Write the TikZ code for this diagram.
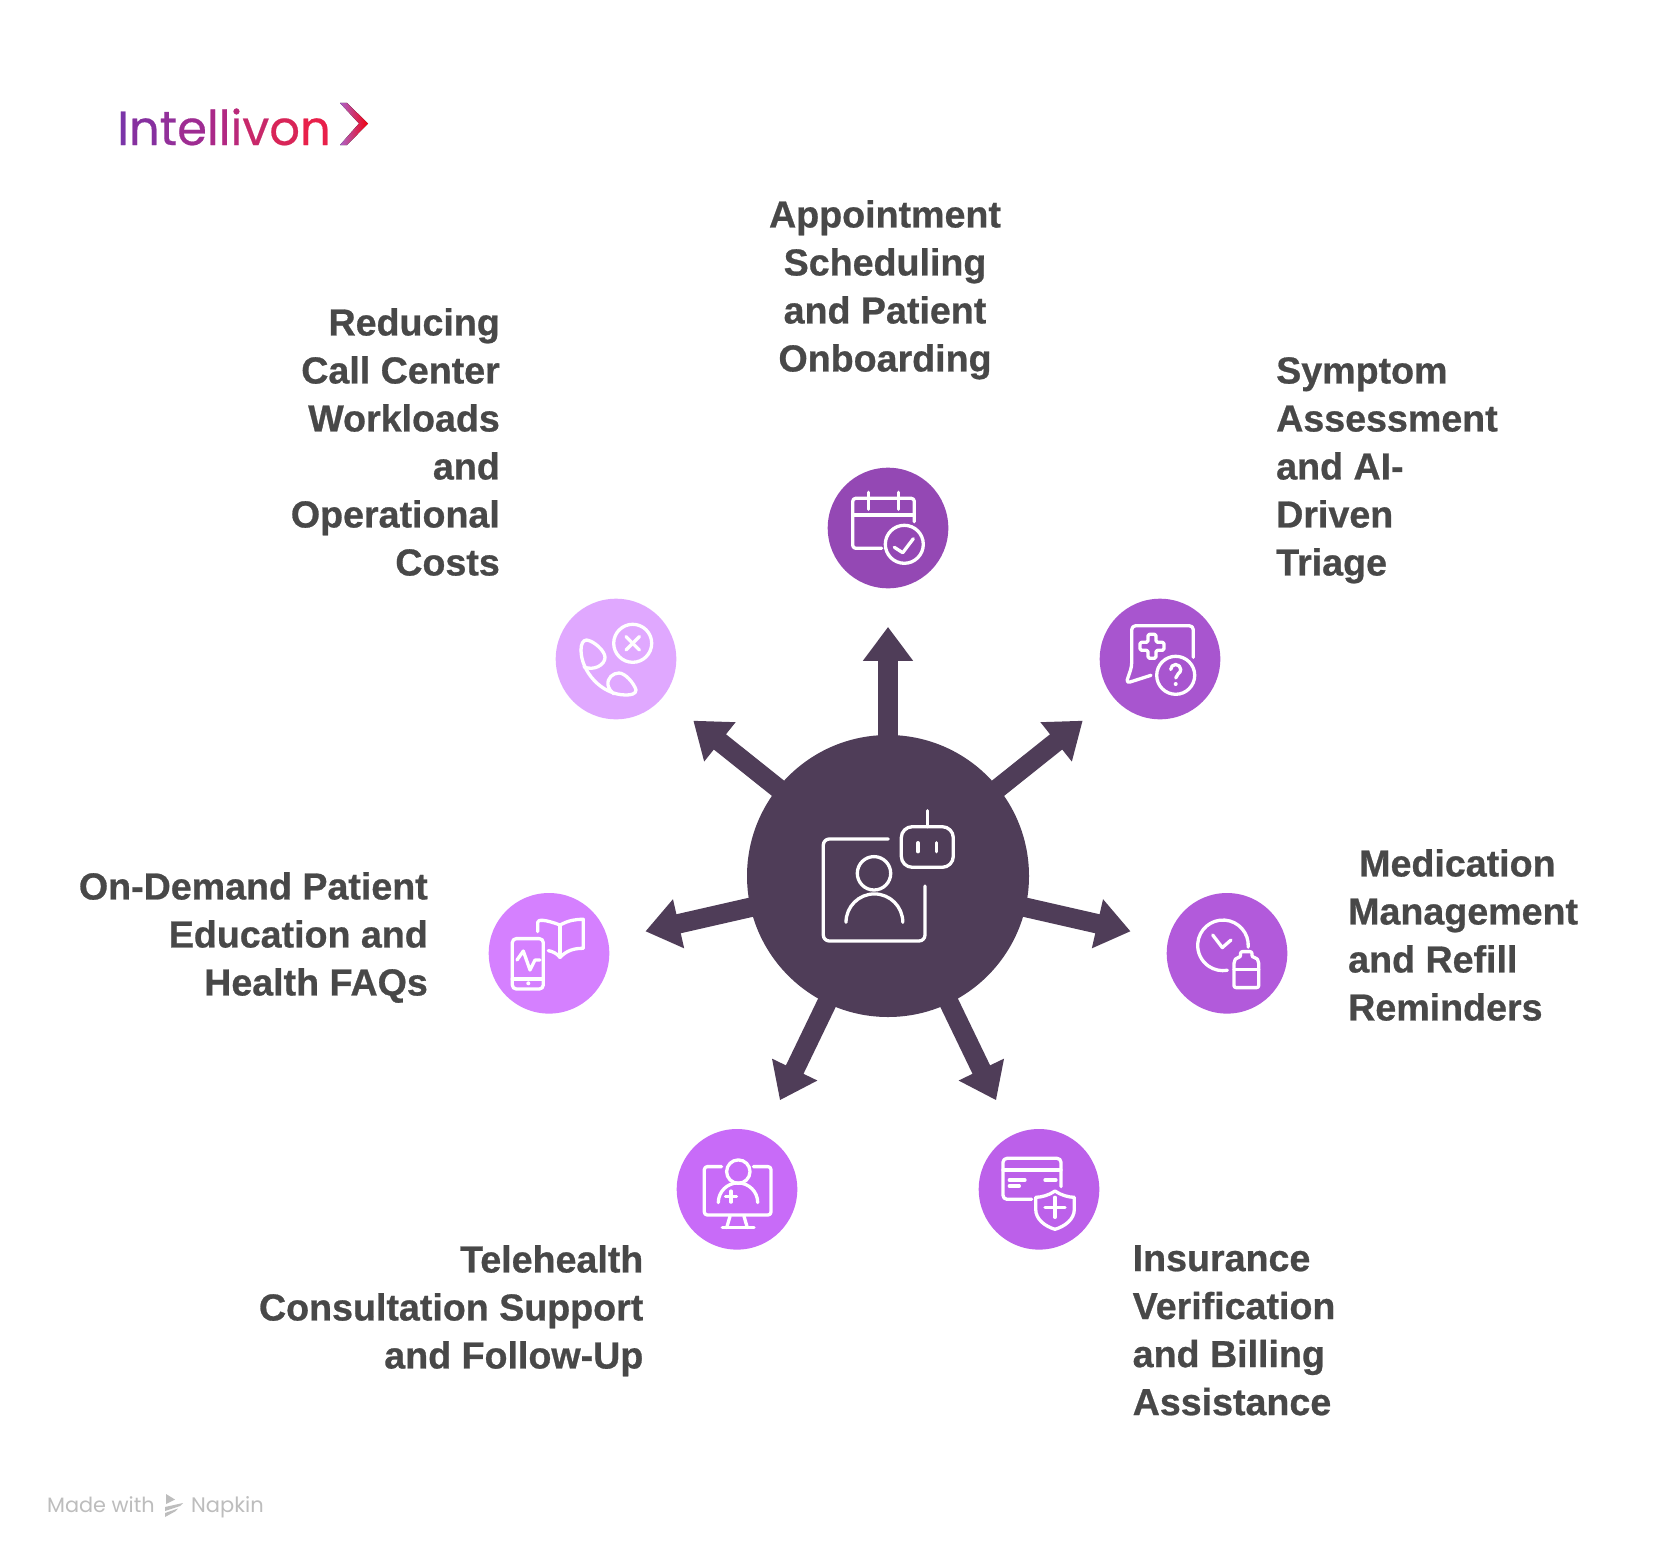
\documentclass[tikz,border=0pt]{standalone}
\usepackage{fontspec}
\usepackage{xcolor}
\usetikzlibrary{arrows.meta}
\setmainfont[BoldFeatures={FakeBold=0.7}]{Liberation Sans}
\newfontfamily\brandfont{Poppins}
\newfontfamily\logofont[FakeBold=0.4]{Poppins}
\definecolor{hubcol}{HTML}{4F3D58}
\definecolor{inkcol}{HTML}{484848}
\definecolor{markcol}{HTML}{BDBDBD}
\definecolor{calcol}{HTML}{9448B4}
\definecolor{triagecol}{HTML}{A855CF}
\definecolor{medcol}{HTML}{B25ADB}
\definecolor{billcol}{HTML}{BC60EA}
\definecolor{telecol}{HTML}{C86BF8}
\definecolor{faqcol}{HTML}{D580FF}
\definecolor{callcol}{HTML}{E0A8FF}
\newcommand{\logotext}{%
  \textcolor[HTML]{7B35A8}{I}\textcolor[HTML]{86309F}{n}\textcolor[HTML]{92309A}{t}%
  \textcolor[HTML]{9E2C92}{e}\textcolor[HTML]{AA2888}{l}\textcolor[HTML]{B22882}{l}%
  \textcolor[HTML]{BA287A}{i}\textcolor[HTML]{C8286A}{v}\textcolor[HTML]{D82558}{o}%
  \textcolor[HTML]{E8204A}{n}}
\tikzset{
  spot/.style={circle,minimum size=120.6pt,inner sep=0pt},
  spoke/.style={draw=hubcol,line width=19.5pt,shorten <=-3pt,shorten >=38.4pt,
    -{Triangle[width=48pt,length=34pt]}},
  icon/.style={draw=white,line width=3.3pt,line cap=round,line join=round},
  label/.style={inner sep=0pt,text=inkcol,font=\fontsize{37.6}{48}\selectfont\bfseries},
}
\begin{document}
\begin{tikzpicture}[x=1pt,y=-1pt]
  \fill[white] (0,0) rectangle (1680,1560);
  \useasboundingbox (0,0) rectangle (1680,1560);

  \node[anchor=base west,inner sep=0pt,font=\fontsize{48}{48}\selectfont\logofont] (logo) at (117,145) {\logotext};
  \fill[left color=callcol!30!calcol,right color=red!80!purple] (340,103) -- (347,103) -- (368,123.5) -- (347,145) -- (340,145) -- (359,123.5) -- cycle;

  \node[circle,fill=hubcol,minimum size=282pt,inner sep=0pt] (hub) at (888,876) {};
  \node[spot,fill=calcol] (cal) at (888,528) {};
  \node[spot,fill=triagecol] (triage) at (1160,659) {};
  \node[spot,fill=medcol] (med) at (1227,953.3) {};
  \node[spot,fill=billcol] (bill) at (1039,1189.3) {};
  \node[spot,fill=telecol] (tele) at (737,1189.3) {};
  \node[spot,fill=faqcol] (faq) at (549,953.3) {};
  \node[spot,fill=callcol] (call) at (616,659) {};

  \foreach \target in {cal,triage,med,bill,tele,faq,call}
    \draw[spoke] (hub) -- (\target);

  \begin{scope}[shift={(hub.center)},icon]
    \draw[rounded corners=6pt] (0.3,-37) -- (-64.7,-37) -- (-64.7,65) -- (37,65) -- (37,10);
    \draw (-14,-2.7) circle (16.7pt);
    \draw (-42,46.3) arc[start angle=180,end angle=0,radius=28.4pt];
    \draw[rounded corners=11pt] (13.3,-49.3) rectangle (65.3,-8.7);
    \draw (39.3,-65.3) -- (39.3,-49.3);
    \draw (30,-33.3) -- (30,-24.3);
    \draw (48.7,-33.3) -- (48.7,-24.3);
  \end{scope}

  \begin{scope}[shift={(cal.center)},icon]
    \draw[rounded corners=3pt] (26.3,-6.3) -- (26.3,-29.7) -- (-35.3,-29.7) -- (-35.3,20.3) -- (-6.3,20.3);
    \draw (-35.3,-13) -- (26.3,-13);
    \draw (-19.7,-35.7) -- (-19.7,-18.7);
    \draw (10.3,-35.7) -- (10.3,-18.7);
    \draw (16.3,16.3) circle (19pt);
    \draw (6.3,19.3) -- (14.7,24.7) -- (25.3,10.7);
  \end{scope}

  \begin{scope}[shift={(triage.center)},icon]
    \draw[rounded corners=4pt] (33.3,-1.7) -- (33.3,-33.3) -- (-28.3,-33.3) -- (-28.3,7.7) -- (-34,24.3) -- (-9,16.3);
    \draw[rounded corners=1.5pt] (-12,-24.7) -- (-4,-24.7) -- (-4,-16.7) -- (4,-16.7) -- (4,-8.7) -- (-4,-8.7) -- (-4,-0.7) -- (-12,-0.7) -- (-12,-8.7) -- (-20,-8.7) -- (-20,-16.7) -- (-12,-16.7) -- cycle;
    \draw (15.7,16.3) circle (19pt);
    \draw (10.7,10.5) arc[start angle=180,end angle=-60,radius=5pt] -- (15.7,19);
    \fill[white,draw=none] (15.7,25) circle (2pt);
  \end{scope}

  \begin{scope}[shift={(med.center)},icon]
    \draw (21.2,-6.2) arc[start angle=-4,end angle=280,radius=25.3pt];
    \draw (-14.3,-18.3) -- (-4.7,-5.7) -- (4,-13.3);
    \draw[rounded corners=2pt] (13.5,4) -- (13.5,-1.7) -- (25,-1.7) -- (25,4) -- (29,4) -- (31.7,8) -- (31.7,34.3) -- (7,34.3) -- (7,8) -- (9.7,4) -- cycle;
    \draw (7,16) -- (31.7,16);
  \end{scope}

  \begin{scope}[shift={(bill.center)},icon]
    \draw[rounded corners=4pt] (22,-2.7) -- (22,-31) -- (-36,-31) -- (-36,10) -- (-7.3,10);
    \draw (-36,-19.3) -- (22,-19.3);
    \draw (-29.7,-9.3) -- (-14,-9.3);
    \draw (-29.7,-3.3) -- (-19.7,-3.3);
    \draw (6,-9.3) -- (17,-9.3);
    \draw (16,1.7) .. controls (22,6) and (30,8) .. (35.3,8) -- (35.3,20) .. controls (35.3,30) and (26,37) .. (16,40) .. controls (6,37) and (-3.3,30) .. (-3.3,20) -- (-3.3,8) .. controls (2,8) and (10,6) .. (16,1.7) -- cycle;
    \draw (16,8) -- (16,28);
    \draw (6,18) -- (26,18);
  \end{scope}

  \begin{scope}[shift={(tele.center)},icon]
    \draw[rounded corners=3pt] (-15.3,-22.7) -- (-32.7,-22.7) -- (-32.7,25.7) -- (34,25.7) -- (34,-22.7) -- (16.3,-22.7);
    \draw (1.3,-17.7) circle (11.7pt);
    \draw (-18.7,13.3) arc[start angle=180,end angle=0,radius=19.7pt];
    \draw (-6,1.8) -- (-6,12.8);
    \draw (-11.5,7.3) -- (-0.5,7.3);
    \draw (-7,27) -- (-10.3,38.3);
    \draw (7,27) -- (10.3,38.3);
    \draw (-14.7,38.3) -- (17,38.3);
  \end{scope}

  \begin{scope}[shift={(faq.center)},icon]
    \draw[rounded corners=4pt] (-36.7,-14.7) rectangle (-5.7,35.7);
    \draw (-36.7,25.7) -- (-5.7,25.7);
    \fill[white,draw=none] (-20.7,30) circle (2pt);
    \draw (-32,6.7) -- (-25.7,-2.3) -- (-19,16.7) -- (-14,6.7) -- (-9,6.7);
    \draw (-11.3,-21.7) -- (-11.3,-31) .. controls (-11.3,-34) and (-4,-34) .. (11,-28.3) .. controls (20,-33) and (26,-34) .. (34.3,-34) -- (34.3,-5) .. controls (25,-5) and (18,-3) .. (11,4) .. controls (8,0) and (3,-2) .. (-0.7,-2.7);
    \draw (11,-28.3) -- (11,4);
  \end{scope}

  \begin{scope}[shift={(call.center)},icon]
    \draw (16.7,-15.7) circle (19pt);
    \draw (10,-22.4) -- (23.4,-9);
    \draw (23.4,-22.4) -- (10,-9);
    \draw (-35,-9) .. controls (-35,-15) and (-33,-19) .. (-29.3,-19) .. controls (-22,-18) and (-11,-8) .. (-11,-1.7) .. controls (-11,6) and (-22,12) .. (-32,8);
    \draw (-35,-9) .. controls (-35,12) and (-15,36) .. (10,36) .. controls (15,36) and (20,35) .. (20,31) .. controls (18,24) and (9,14) .. (3,14) .. controls (-3,14) and (-9,19) .. (-8,26) .. controls (-7,30) and (-5,33) .. (-2,35);
  \end{scope}

  \node[label,align=center,anchor=north] (caltext) at (885,200) {Appointment\\Scheduling\\and Patient\\Onboarding};
  \node[label,align=left,anchor=north west] (triagetext) at (1276,357) {Symptom\\Assessment\\and AI-\\Driven\\Triage};
  \node[label,align=left,anchor=north west] (medtext) at (1348,849) {\hspace*{11pt}Medication\\Management\\and Refill\\Reminders};
  \node[label,align=left,anchor=north west] (billtext) at (1132.5,1245) {Insurance\\Verification\\and Billing\\Assistance};
  \node[label,align=right,anchor=north east] (teletext) at (643.5,1245) {Telehealth\\Consultation Support\\and Follow-Up};
  \node[label,align=right,anchor=north east] (faqtext) at (428,872) {On-Demand Patient\\Education and\\Health FAQs};
  \node[label,align=right,anchor=north east] (calltext) at (500,308) {Reducing\\Call Center\\Workloads\\and\\Operational\\Costs};

  \node[anchor=base west,inner sep=0pt,text=markcol,font=\fontsize{20.8}{21}\selectfont\brandfont] (made) at (47,1512) {Made with};
  \node[anchor=base west,inner sep=0pt,text=markcol,font=\fontsize{21}{21}\selectfont\brandfont] (napkin) at (191,1512) {Napkin};
  \fill[markcol] (166,1494) -- (175,1499.5) -- (166,1504) -- cycle;
  \fill[markcol] (165,1507) -- (183,1503) -- (180,1506) -- (165,1511) -- cycle;
  \fill[markcol] (165,1513) -- (178,1508.5) -- (175,1511.5) -- (165,1517) -- cycle;
\end{tikzpicture}
\end{document}
